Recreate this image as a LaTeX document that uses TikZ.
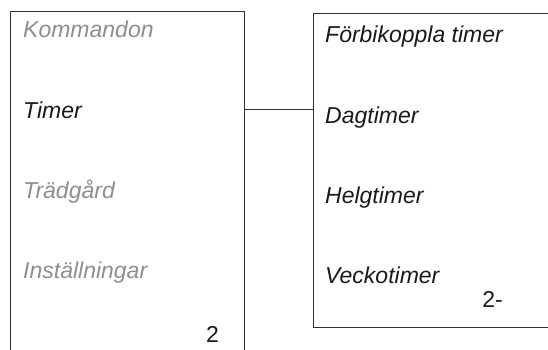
\documentclass[tikz,border=0pt]{standalone}
\usepackage{fontspec}
\setmainfont{Liberation Sans}
\usepackage{xcolor}
\usetikzlibrary{positioning}
\definecolor{inkline}{HTML}{333333}
\definecolor{inkdark}{HTML}{1A1A1A}
\definecolor{inkgray}{HTML}{8E8E8E}
\tikzset{
  panel/.style={draw=inkline, line width=0.9pt, anchor=north west, inner sep=0pt},
  item/.style={anchor=base west, inner sep=0pt, font=\fontsize{23}{26}\selectfont\itshape, text=inkdark},
  greyitem/.style={item, text=inkgray},
  pagenum/.style={anchor=base east, inner sep=0pt, font=\fontsize{23}{26}\selectfont, text=inkdark},
  link/.style={draw=inkline, line width=0.9pt}
}

\begin{document}
\begin{tikzpicture}[x=1pt, y=-1pt]
    \useasboundingbox (0,0) rectangle (548,350);
    \clip (0,0) rectangle (548,350);

    % menu panels
    \node[panel, minimum width=234.5pt, minimum height=380pt] (menu) at (9.5,11) {};
    \node[panel, minimum width=300pt, minimum height=314pt] (sub) at (312.5,13) {};

    % main menu
    \node[greyitem] (cmd) at (23,38) {Kommandon};
    \node[item] (timer) at (23,118) {Timer};
    \node[greyitem] (garden) at (23,198) {Trädgård};
    \node[greyitem] (setup) at (23,278) {Inställningar};
    \node[pagenum] (num) at (219,342) {2};

    % timer submenu
    \node[item] (bypass) at (325,43) {Förbikoppla timer};
    \node[item] (day) at (325,123) {Dagtimer};
    \node[item] (weekend) at (325,203) {Helgtimer};
    \node[item] (week) at (325,283) {Veckotimer};
    \node[pagenum] (subnum) at (503,307) {2-};

    \draw[link] (menu.east |- timer.center) -- (sub.west |- timer.center);
\end{tikzpicture}
\end{document}
